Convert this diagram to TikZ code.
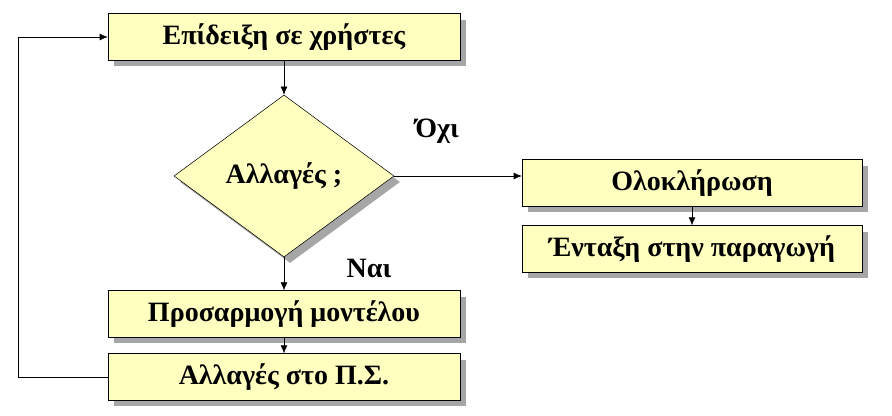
\documentclass[tikz,border=0pt]{standalone}
\usepackage{fontspec}
\setmainfont{Liberation Serif}
\usetikzlibrary{shapes.geometric,shadows,arrows.meta}
\definecolor{boxfill}{HTML}{FFFFC0}
\tikzset{
  flowbox/.style={draw, fill=boxfill, minimum width=264pt, minimum height=35pt,
    drop shadow={shadow xshift=4.5pt, shadow yshift=-4.5pt, fill=gray!70, opacity=1},
    font=\bfseries\fontsize{21}{24}\selectfont, inner sep=0pt},
  decision/.style={diamond, draw, fill=boxfill, minimum width=165pt, minimum height=121.5pt,
    aspect=1.36, inner sep=0pt,
    drop shadow={shadow xshift=4.5pt, shadow yshift=-4.5pt, fill=gray!70, opacity=1},
    font=\bfseries\fontsize{21}{24}\selectfont},
  flowlabel/.style={font=\bfseries\fontsize{21}{24}\selectfont},
  flow/.style={-{Latex[length=6pt,width=5pt]}}
}
\begin{document}
\begin{tikzpicture}[x=0.75pt,y=-0.75pt]
\fill[white] (0,0) rectangle (892,416);
% main column
\node[flowbox] (show) at (284,37) {Επίδειξη σε χρήστες};
\node[decision] (changes) at (284,176) {Αλλαγές ;};
\node[flowbox] (adapt) at (284,314) {Προσαρμογή μοντέλου};
\node[flowbox] (modify) at (284,377) {Αλλαγές στο Π.Σ.};
% right column
\node[flowbox, minimum width=255pt] (finish) at (692,183) {Ολοκλήρωση};
\node[flowbox, minimum width=255pt] (deploy) at (692,249) {Ένταξη στην παραγωγή};
% labels
\node[flowlabel] (no) at (437,131) {Όχι};
\node[flowlabel] (yes) at (369,268) {Ναι};
\coordinate (loop) at (18,0);
% connectors
\draw[flow] (show) -- (changes);
\draw[flow] (changes) -- (adapt);
\draw[flow] (adapt) -- (modify);
\draw[flow] (changes.east) -- (changes.east -| finish.west);
\draw[flow] (finish) -- (deploy);
\draw[flow] (modify.west) -- (modify.west -| loop) -- (show.west -| loop) -- (show.west);
\end{tikzpicture}
\end{document}
